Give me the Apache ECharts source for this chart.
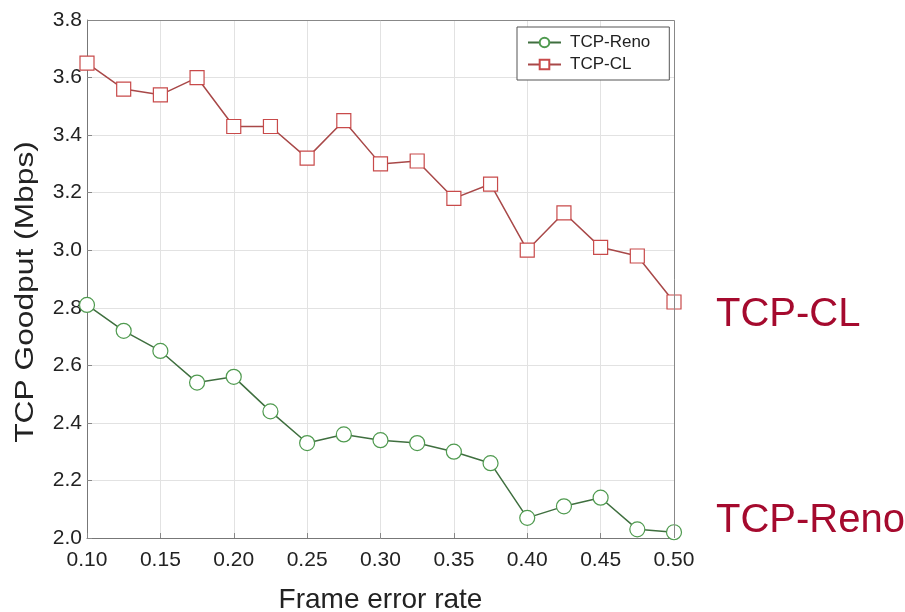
<!DOCTYPE html>
<html>
<head>
<meta charset="utf-8">
<script src="https://cdn.jsdelivr.net/npm/echarts@6/dist/echarts.min.js"></script>
<style>
  html, body { margin: 0; padding: 0; background: #ffffff; }
  #chart { width: 905px; height: 612px; }
</style>
</head>
<body>
<div id="chart"></div>
<script>
// Frame error rate samples (x) and goodput in Mbps for each protocol
const frameErrorRate = [0.100, 0.125, 0.150, 0.175, 0.200, 0.225, 0.250, 0.275, 0.300,
                        0.325, 0.350, 0.375, 0.400, 0.425, 0.450, 0.475, 0.500];
const renoGoodput = [2.81, 2.72, 2.65, 2.54, 2.56, 2.44, 2.33, 2.36, 2.34,
                     2.33, 2.30, 2.26, 2.07, 2.11, 2.14, 2.03, 2.02];
const clGoodput = [3.65, 3.56, 3.54, 3.60, 3.43, 3.43, 3.32, 3.45, 3.30,
                   3.31, 3.18, 3.23, 3.00, 3.13, 3.01, 2.98, 2.82];
const seriesNames = ['TCP-Reno', 'TCP-CL'];
const xTitle = 'Frame error rate';
const yTitle = 'TCP Goodput (Mbps)';

const pairs = ys => frameErrorRate.map((x, i) => [x, ys[i]]);
const FONT = '"Liberation Sans", Arial, sans-serif';

const chart = echarts.init(document.getElementById('chart'));
chart.setOption({
  backgroundColor: '#ffffff',
  animation: false,
  grid: { left: 87, right: 231, top: 20, bottom: 74, outerBoundsMode: 'none', containLabel: false },
  legend: {
    orient: 'vertical',
    left: 517, top: 27,
    data: seriesNames,
    backgroundColor: '#ffffff',
    borderColor: '#555555', borderWidth: 1,
    padding: [7, 19, 7, 10],
    itemGap: 5,
    itemWidth: 33, itemHeight: 12,
    textStyle: { fontFamily: FONT, fontSize: 17, color: '#222', padding: [0, 0, 0, 4] }
  },
  xAxis: {
    type: 'value',
    min: 0.10, max: 0.50, interval: 0.05,
    name: xTitle,
    nameLocation: 'middle', nameGap: 48,
    nameTextStyle: { fontFamily: FONT, fontSize: 28, color: '#222' },
    axisLine: { show: true, onZero: false, lineStyle: { color: '#777', width: 1 } },
    axisTick: { show: true, inside: true, length: 5, lineStyle: { color: '#888' } },
    axisLabel: { fontFamily: FONT, fontSize: 21, color: '#222', margin: 12,
                 formatter: v => v.toFixed(2) },
    splitLine: { show: true, lineStyle: { color: '#e2e2e2', width: 1 } }
  },
  yAxis: {
    type: 'value',
    min: 2.0, max: 3.8, interval: 0.2,
    axisLine: { show: true, lineStyle: { color: '#777', width: 1 } },
    axisTick: { show: true, inside: true, length: 5, lineStyle: { color: '#888' } },
    axisLabel: { fontFamily: FONT, fontSize: 21, color: '#222', margin: 5,
                 formatter: v => v.toFixed(1) },
    splitLine: { show: true, lineStyle: { color: '#e2e2e2', width: 1 } }
  },
  graphic: [
    // frame on the top and right sides of the plot area
    { type: 'polyline', silent: true, z: 5,
      shape: { points: [[87, 20.5], [674.5, 20.5], [674.5, 538]] },
      style: { stroke: '#888', lineWidth: 1, fill: null } },
    // vertical axis title, drawn tall and narrow
    { type: 'text', x: 26, y: 292, rotation: Math.PI / 2, scaleX: 1.27, silent: true,
      style: { text: yTitle, font: '25px ' + FONT, fill: '#222',
               align: 'center', verticalAlign: 'middle' } },
    { type: 'text', left: 716, top: 295, silent: true,
      style: { text: 'TCP-CL', font: '40px ' + FONT, fill: '#a50a2e' } },
    { type: 'text', left: 716, top: 501, silent: true,
      style: { text: 'TCP-Reno', font: '40px ' + FONT, fill: '#a50a2e' } }
  ],
  series: [
    {
      name: seriesNames[0],
      type: 'line',
      data: pairs(renoGoodput),
      symbol: 'circle', symbolSize: 15,
      showAllSymbol: true,
      lineStyle: { color: '#3f6f3f', width: 1.5 },
      itemStyle: { color: '#ffffff', borderColor: '#4f9a4f', borderWidth: 1.2 },
      z: 3
    },
    {
      name: seriesNames[1],
      type: 'line',
      data: pairs(clGoodput),
      symbol: 'rect', symbolSize: 14,
      showAllSymbol: true,
      lineStyle: { color: '#a84848', width: 1.5 },
      itemStyle: { color: '#ffffff', borderColor: '#c84a4a', borderWidth: 1.2 },
      z: 3
    }
  ]
});
</script>
</body>
</html>
